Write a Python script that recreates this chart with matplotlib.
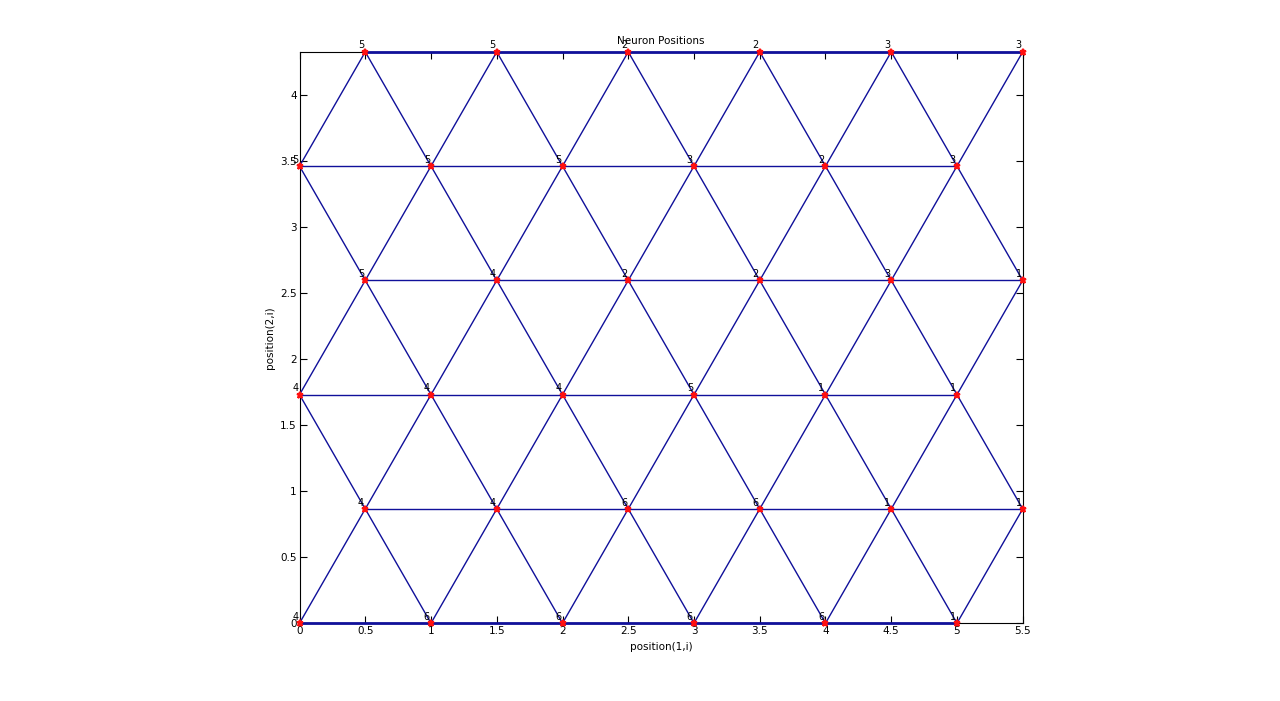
import numpy as np
import matplotlib
matplotlib.use("Agg")
import matplotlib.pyplot as plt

# neuron positions (6x6 hexagonal SOM) and winning-class labels
pos_x = [0, 1, 2, 3, 4, 5,
         0.5, 1.5, 2.5, 3.5, 4.5, 5.5,
         0, 1, 2, 3, 4, 5,
         0.5, 1.5, 2.5, 3.5, 4.5, 5.5,
         0, 1, 2, 3, 4, 5,
         0.5, 1.5, 2.5, 3.5, 4.5, 5.5]
pos_y = [0.0] * 6 + [0.866] * 6 + [1.732] * 6 + [2.598] * 6 + [3.464] * 6 + [4.330] * 6
labels = ['4', '6', '6', '6', '6', '1',
          '4', '4', '6', '6', '1', '1',
          '4', '4', '4', '5', '1', '1',
          '5', '4', '2', '2', '3', '1',
          '5', '5', '5', '3', '2', '3',
          '5', '5', '2', '2', '3', '3']

xticks = [0, 0.5, 1, 1.5, 2, 2.5, 3, 3.5, 4, 4.5, 5, 5.5]
yticks = [0, 0.5, 1, 1.5, 2, 2.5, 3, 3.5, 4]

fig = plt.figure(figsize=(12.8, 7.01), dpi=100)
ax = fig.add_axes([0.234, 0.111, 0.565, 0.815])

px = np.array(pos_x)
py = np.array(pos_y)
line_col = '#10109a'
n = len(px)
for i in range(n):
    for j in range(i + 1, n):
        d = np.hypot(px[i] - px[j], py[i] - py[j])
        if d < 1.01:
            # rows lying on the axes edge look heavier in the original
            edge = py[i] == py[j] and py[i] in (py.min(), py.max())
            ax.plot([px[i], px[j]], [py[i], py[j]], color=line_col,
                    lw=2.0 if edge else 1.0, zorder=2.6, clip_on=False)

ax.plot(px, py, '*', color='#ff1010', markersize=5, markeredgewidth=1.5, zorder=3, clip_on=False)

for x, y, s in zip(pos_x, pos_y, labels):
    ax.annotate(s, (x, y), xytext=(-3, 1), textcoords='offset points',
                ha='center', va='bottom', fontsize=7, zorder=4)

ax.set_xlim(0, 5.5)
ax.set_ylim(0, 4.33)
ax.set_xticks(xticks)
ax.set_xticklabels([f'{v:g}' for v in xticks])
ax.set_yticks(yticks)
ax.set_yticklabels([f'{v:g}' for v in yticks])
ax.tick_params(direction='in', length=5, width=0.8, labelsize=7.5,
               top=True, right=True, pad=2)
for sp in ax.spines.values():
    sp.set_linewidth(0.8)

ax.set_title('Neuron Positions', fontsize=7.5, pad=6)
ax.set_xlabel('position(1,i)', fontsize=7.5, labelpad=4)
ax.set_ylabel('position(2,i)', fontsize=7.5, labelpad=4)

fig.savefig('out.png', dpi=100)
